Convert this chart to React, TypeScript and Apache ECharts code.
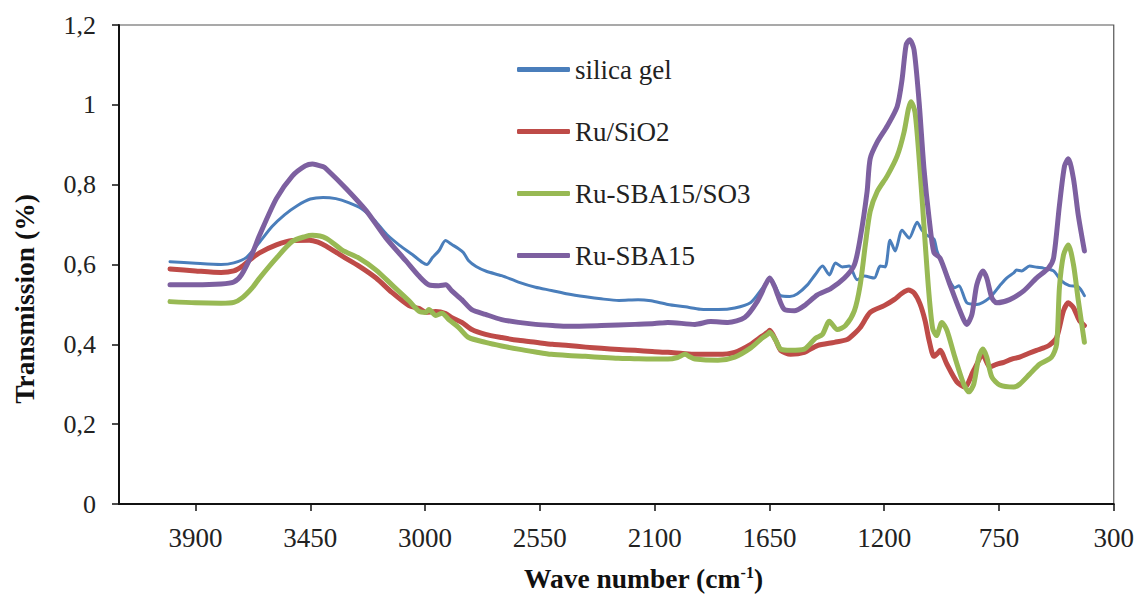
import React, { useEffect, useRef } from "react";
import * as echarts from "echarts";

const seriesNames = ["silica gel", "Ru/SiO2", "Ru-SBA15/SO3", "Ru-SBA15"];
const seriesColors = ["#4A7EBB", "#BE4B48", "#98B954", "#7D60A0"];
const xTickValues = [300, 750, 1200, 1650, 2100, 2550, 3000, 3450, 3900];

const silicaGel = [
  [4000, 0.607], [3900, 0.603], [3800, 0.6], [3750, 0.604], [3700, 0.618], [3650, 0.655], [3600, 0.695],
  [3550, 0.725], [3500, 0.748], [3450, 0.764], [3400, 0.768], [3350, 0.765], [3300, 0.755], [3250, 0.74],
  [3200, 0.712], [3150, 0.675], [3100, 0.648], [3050, 0.625], [3010, 0.605], [2993, 0.6], [2970, 0.618],
  [2945, 0.635], [2920, 0.66], [2895, 0.65], [2870, 0.64], [2850, 0.63], [2830, 0.61], [2800, 0.595],
  [2760, 0.583], [2700, 0.572], [2634, 0.556], [2567, 0.543], [2505, 0.535], [2440, 0.526], [2370, 0.519],
  [2310, 0.514], [2240, 0.51], [2165, 0.512], [2114, 0.509], [2048, 0.5], [1980, 0.494], [1920, 0.488],
  [1850, 0.487], [1786, 0.491], [1723, 0.505], [1684, 0.535], [1657, 0.56], [1649, 0.568], [1630, 0.55],
  [1606, 0.522], [1570, 0.52], [1540, 0.527], [1501, 0.549], [1470, 0.575], [1442, 0.596], [1415, 0.574],
  [1391, 0.604], [1364, 0.594], [1337, 0.596], [1306, 0.562], [1278, 0.571], [1239, 0.566], [1216, 0.596],
  [1196, 0.594], [1177, 0.661], [1157, 0.634], [1130, 0.686], [1102, 0.666], [1071, 0.706], [1052, 0.686],
  [1032, 0.673], [1005, 0.664], [993, 0.634], [965, 0.59], [940, 0.555], [923, 0.542], [907, 0.547],
  [876, 0.504], [837, 0.5], [786, 0.517], [747, 0.547], [720, 0.566], [692, 0.579], [681, 0.586],
  [661, 0.584], [630, 0.596], [600, 0.593], [575, 0.591], [536, 0.584], [505, 0.559], [474, 0.547],
  [439, 0.544], [415, 0.522],
];

const ruSiO2 = [
  [4000, 0.589], [3900, 0.584], [3800, 0.58], [3750, 0.584], [3716, 0.596], [3680, 0.615], [3649, 0.629],
  [3583, 0.649], [3520, 0.66], [3454, 0.661], [3420, 0.656], [3388, 0.646], [3325, 0.621], [3259, 0.596],
  [3192, 0.566], [3130, 0.53], [3063, 0.497], [3024, 0.49], [2997, 0.48], [2958, 0.482], [2919, 0.477],
  [2895, 0.467], [2856, 0.455], [2817, 0.437], [2763, 0.425], [2700, 0.417], [2634, 0.41], [2567, 0.405],
  [2500, 0.4], [2438, 0.397], [2370, 0.393], [2309, 0.39], [2240, 0.387], [2177, 0.385], [2110, 0.382],
  [2048, 0.38], [1990, 0.377], [1942, 0.375], [1852, 0.375], [1786, 0.38], [1723, 0.4], [1680, 0.42],
  [1657, 0.43], [1649, 0.435], [1625, 0.41], [1606, 0.385], [1567, 0.375], [1513, 0.38], [1462, 0.397],
  [1395, 0.405], [1345, 0.412], [1320, 0.425], [1294, 0.442], [1255, 0.48], [1200, 0.497], [1161, 0.512],
  [1130, 0.528], [1105, 0.536], [1083, 0.529], [1060, 0.502], [1040, 0.46], [1024, 0.41], [1005, 0.37],
  [990, 0.378], [981, 0.385], [954, 0.35], [915, 0.306], [884, 0.293], [849, 0.335], [813, 0.373],
  [786, 0.343], [760, 0.35], [731, 0.355], [700, 0.363], [669, 0.368], [635, 0.377], [603, 0.385],
  [575, 0.391], [552, 0.398], [524, 0.417], [497, 0.484], [478, 0.504], [458, 0.492], [435, 0.46],
  [415, 0.447],
];

const ruSBA15SO3 = [
  [4000, 0.507], [3900, 0.504], [3800, 0.503], [3750, 0.505], [3716, 0.517], [3677, 0.542], [3649, 0.566],
  [3583, 0.616], [3520, 0.658], [3470, 0.67], [3442, 0.673], [3388, 0.666], [3325, 0.636], [3259, 0.616],
  [3192, 0.586], [3130, 0.549], [3063, 0.509], [3024, 0.483], [2997, 0.48], [2985, 0.487], [2958, 0.472],
  [2934, 0.478], [2907, 0.462], [2868, 0.442], [2829, 0.417], [2763, 0.405], [2700, 0.396], [2634, 0.388],
  [2567, 0.381], [2505, 0.375], [2440, 0.372], [2372, 0.37], [2300, 0.367], [2243, 0.365], [2180, 0.364],
  [2114, 0.363], [2048, 0.363], [2010, 0.367], [1981, 0.375], [1960, 0.368], [1942, 0.363], [1852, 0.36],
  [1786, 0.368], [1723, 0.391], [1680, 0.415], [1657, 0.425], [1649, 0.43], [1625, 0.41], [1606, 0.388],
  [1567, 0.385], [1513, 0.388], [1470, 0.415], [1442, 0.425], [1415, 0.458], [1384, 0.437], [1352, 0.447],
  [1317, 0.484], [1294, 0.549], [1274, 0.649], [1255, 0.733], [1227, 0.783], [1188, 0.822], [1149, 0.872],
  [1122, 0.932], [1105, 0.99], [1095, 1.008], [1079, 0.981], [1060, 0.84], [1040, 0.66], [1025, 0.53],
  [1010, 0.44], [995, 0.422], [974, 0.455], [954, 0.435], [923, 0.368], [888, 0.3], [868, 0.281],
  [849, 0.3], [829, 0.368], [813, 0.388], [798, 0.368], [778, 0.318], [747, 0.298], [692, 0.293],
  [669, 0.3], [630, 0.325], [591, 0.35], [544, 0.368], [524, 0.4], [513, 0.542], [497, 0.624],
  [478, 0.649], [458, 0.6], [439, 0.51], [415, 0.405],
];

const ruSBA15 = [
  [4000, 0.549], [3900, 0.549], [3800, 0.551], [3750, 0.556], [3720, 0.574], [3680, 0.624], [3649, 0.673],
  [3583, 0.765], [3520, 0.822], [3470, 0.847], [3442, 0.852], [3400, 0.845], [3388, 0.84], [3309, 0.79],
  [3231, 0.735], [3153, 0.666], [3075, 0.609], [3024, 0.571], [2985, 0.549], [2946, 0.547], [2919, 0.549],
  [2895, 0.534], [2856, 0.512], [2817, 0.487], [2763, 0.475], [2700, 0.462], [2634, 0.455], [2567, 0.45],
  [2500, 0.447], [2438, 0.445], [2309, 0.447], [2177, 0.45], [2100, 0.452], [2048, 0.455], [1942, 0.45],
  [1880, 0.457], [1813, 0.455], [1747, 0.467], [1696, 0.509], [1665, 0.55], [1649, 0.566], [1630, 0.545],
  [1618, 0.524], [1591, 0.487], [1552, 0.484], [1513, 0.497], [1462, 0.524], [1411, 0.539], [1356, 0.566],
  [1317, 0.599], [1294, 0.666], [1267, 0.783], [1255, 0.865], [1227, 0.907], [1188, 0.947], [1149, 0.996],
  [1130, 1.063], [1114, 1.15], [1100, 1.163], [1083, 1.138], [1063, 1.006], [1044, 0.84], [1024, 0.716],
  [1005, 0.63], [981, 0.616], [942, 0.549], [903, 0.484], [876, 0.45], [856, 0.475], [837, 0.549],
  [813, 0.584], [798, 0.566], [778, 0.517], [759, 0.504], [708, 0.512], [653, 0.534], [603, 0.566],
  [556, 0.591], [536, 0.616], [513, 0.748], [493, 0.847], [478, 0.865], [458, 0.815], [439, 0.723],
  [415, 0.634],
];

const seriesData = [silicaGel, ruSiO2, ruSBA15SO3, ruSBA15];
const seriesWidths = [3, 5, 5, 5];

const FONT = "Liberation Serif, serif";

export default function App() {
  const ref = useRef<HTMLDivElement>(null);
  useEffect(() => {
    if (!ref.current) return;
    const chart = echarts.init(ref.current, null, { renderer: "svg" });
    chart.setOption({
      animation: false,
      backgroundColor: "#ffffff",
      textStyle: { fontFamily: FONT },
      grid: {
        left: 119,
        right: 20,
        top: 25,
        bottom: 89,
        show: true,
        borderColor: "#555",
        borderWidth: 1.2,
      },
      legend: {
        orient: "vertical",
        left: 512,
        top: 51,
        itemWidth: 53,
        itemHeight: 5,
        itemGap: 35,
        icon: "roundRect",
        textStyle: { fontFamily: FONT, fontWeight: 400, fontSize: 27, color: "#222", lineHeight: 24, height: 24 },
        data: seriesNames.map((name, i) => ({ name, itemStyle: { color: seriesColors[i] } })),
      },
      xAxis: {
        type: "value",
        min: 300,
        max: 4200,
        interval: 450,
        inverse: true,
        name: "Wave number (cm{sup|-1})",
        nameLocation: "middle",
        nameGap: 60,
        nameTextStyle: {
          fontFamily: FONT,
          fontSize: 27.5,
          fontWeight: "bold",
          color: "#111",
          padding: [0, 0, 0, 54],
          rich: {
            sup: { fontFamily: FONT, fontSize: 16, fontWeight: "bold", color: "#111", verticalAlign: "top", padding: [0, 0, 12, 0] },
          },
        },
        axisLine: { show: true, onZero: false, lineStyle: { color: "#111", width: 2 } },
        axisTick: { show: true, inside: false, length: 7, customValues: xTickValues, lineStyle: { color: "#111", width: 1.5 } },
        axisLabel: {
          customValues: xTickValues,
          fontFamily: FONT,
          fontWeight: 400,
          fontSize: 27,
          color: "#222",
          margin: 20,
          formatter: (v: number) => String(v),
        },
        splitLine: { show: false },
      },
      yAxis: {
        type: "value",
        min: 0,
        max: 1.2,
        interval: 0.2,
        axisLine: { show: true, lineStyle: { color: "#111", width: 2 } },
        axisTick: { show: true, inside: false, length: 7, lineStyle: { color: "#111", width: 1.5 } },
        axisLabel: {
          fontFamily: FONT,
          fontWeight: 400,
          fontSize: 26,
          color: "#222",
          margin: 23,
          formatter: (v: number) => String(+v.toFixed(1)).replace(".", ","),
        },
        splitLine: { show: false },
      },
      graphic: [
        {
          type: "text",
          x: 24,
          y: 299,
          rotation: Math.PI / 2,
          style: {
            text: "Transmission (%)",
            fontFamily: FONT,
            fontSize: 27.5,
            fontWeight: "bold",
            fill: "#111",
            textAlign: "center",
            textVerticalAlign: "middle",
          },
        },
      ],
      series: seriesNames.map((name, i) => ({
        name,
        type: "line",
        data: seriesData[i],
        symbol: "none",
        smooth: 0.25,
        color: seriesColors[i],
        lineStyle: { color: seriesColors[i], width: seriesWidths[i], cap: "round", join: "round" },
      })),
    });
    return () => chart.dispose();
  }, []);
  return <div ref={ref} style={{ position: "fixed", left: 0, top: 0, width: 1137, height: 597 }} />;
}
